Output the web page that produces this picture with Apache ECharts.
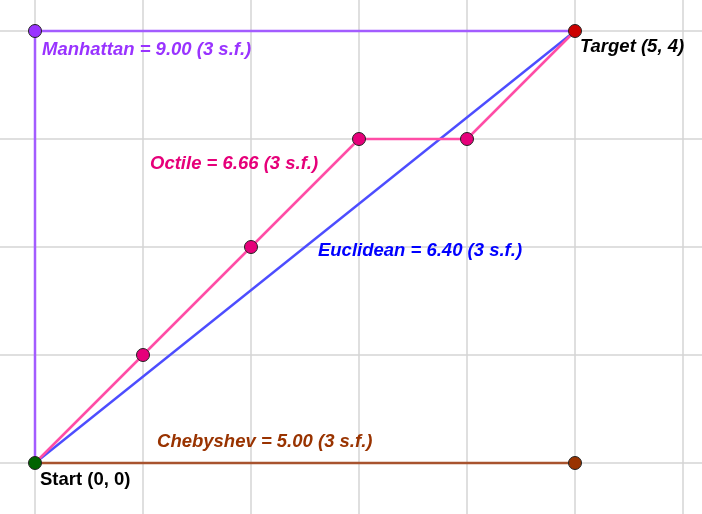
<!DOCTYPE html>
<html>
<head>
<meta charset="utf-8">
<script src="https://cdn.jsdelivr.net/npm/echarts@6/dist/echarts.min.js"></script>
<style>
  html, body { margin: 0; padding: 0; background: #fff; }
  #chart { width: 702px; height: 514px; }
</style>
</head>
<body>
<div id="chart"></div>
<script>
// path coordinates (grid units)
var manhattanPath = [[0, 0], [0, 4], [5, 4]];
var euclideanPath = [[0, 0], [5, 4]];
var octilePath = [[0, 0], [1, 1], [2, 2], [3, 3], [4, 3], [5, 4]];
var chebyshevPath = [[0, 0], [5, 0]];

var octileDots = [[1, 1], [2, 2], [3, 3], [4, 3]];
var manhattanDot = [[0, 4]];
var chebyshevDot = [[5, 0]];
var startDot = [[0, 0]];
var targetDot = [[5, 4]];

// grid lines
var gridX = [0, 1, 2, 3, 4, 5, 6];
var gridY = [0, 1, 2, 3, 4];

// label texts
var labelTexts = ['Manhattan = 9.00 (3 s.f.)', 'Target (5, 4)', 'Octile = 6.66 (3 s.f.)',
    'Euclidean = 6.40 (3 s.f.)', 'Chebyshev = 5.00 (3 s.f.)', 'Start (0, 0)'];

var myChart = echarts.init(document.getElementById('chart'));

function lineSeries(data, color){
    return {
        type: 'line',
        data: data,
        symbol: 'none',
        silent: true,
        lineStyle: { color: color, width: 2.5, opacity: 1 },
        z: 2
    };
}

function dotSeries(data, color){
    return {
        type: 'scatter',
        data: data,
        symbol: 'circle',
        symbolSize: 13,
        silent: true,
        itemStyle: { color: color, borderColor: '#222', borderWidth: 1, opacity: 1 },
        z: 5
    };
}

// text anchors: left edge / vertical middle of each label
var labelSpots = [
    [0.065, 3.824, '#9933ff', 'italic'],
    [5.046, 3.852, '#000000', 'italic'],
    [1.065, 2.770, '#e6007a', 'italic'],
    [2.620, 1.963, '#0000ff', 'italic'],
    [1.130, 0.194, '#993300', 'italic'],
    [0.046, -0.157, '#000000', 'normal']
];

var labelData = [];
for(var i = 0; i < labelSpots.length; i++){
    labelData.push({
        value: [labelSpots[i][0], labelSpots[i][1]],
        label: {
            show: true,
            formatter: labelTexts[i],
            position: 'inside',
            align: 'left',
            verticalAlign: 'middle',
            color: labelSpots[i][2],
            fontStyle: labelSpots[i][3],
            fontWeight: 'bold',
            fontSize: 18.5,
            fontFamily: 'Liberation Sans, Arial, sans-serif'
        }
    });
}

var gridMarks = [];
for(var i = 0; i < gridX.length; i++){
    gridMarks.push({ xAxis: gridX[i] });
}
for(var i = 0; i < gridY.length; i++){
    gridMarks.push({ yAxis: gridY[i] });
}

var hideAxis = {
    axisLine: { show: false }, axisTick: { show: false }, axisLabel: { show: false },
    splitLine: { show: false }
};

var option = {
    animation: false,
    backgroundColor: '#ffffff',
    grid: { left: 0, right: 0, top: 0, bottom: 0 },
    xAxis: echarts.util.extend({ type: 'value', min: -35 / 108, max: 667 / 108 }, hideAxis),
    yAxis: echarts.util.extend({ type: 'value', min: -51 / 108, max: 463 / 108 }, hideAxis),
    series: [
        {
            type: 'line',
            data: [],
            silent: true,
            z: 0,
            markLine: {
                silent: true,
                z: 0,
                symbol: ['none', 'none'],
                label: { show: false },
                lineStyle: { color: '#d4d4d4', width: 1.5, type: 'solid' },
                emphasis: { disabled: true },
                data: gridMarks
            }
        },
        lineSeries(chebyshevPath, '#a8532e'),
        lineSeries(manhattanPath, '#a35cff'),
        lineSeries(euclideanPath, '#4d4dff'),
        lineSeries(octilePath, '#ff4da6'),
        dotSeries(octileDots, '#e6007a'),
        dotSeries(manhattanDot, '#9933ff'),
        dotSeries(chebyshevDot, '#993300'),
        dotSeries(startDot, '#006400'),
        dotSeries(targetDot, '#cc0000'),
        {
            type: 'scatter',
            data: labelData,
            symbolSize: 0,
            silent: true,
            itemStyle: { opacity: 1 },
            z: 6
        }
    ]
};
myChart.setOption(option);
</script>
</body>
</html>
